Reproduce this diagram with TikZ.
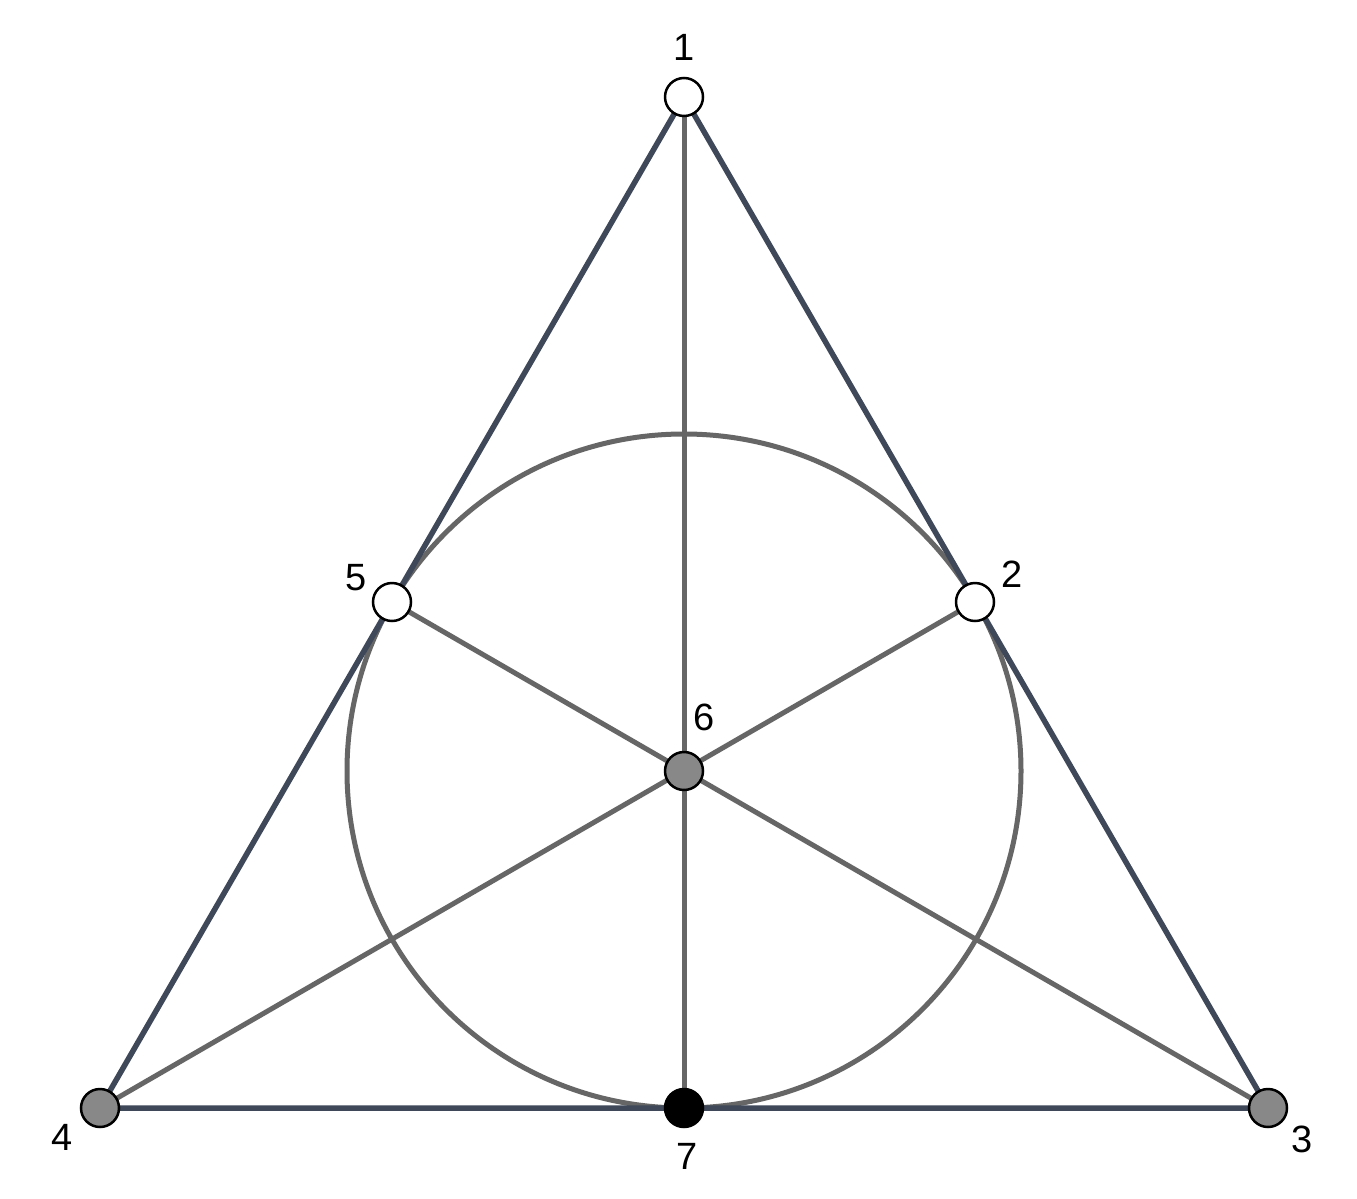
\documentclass[tikz,border=0pt]{standalone}
\usepackage{fontspec}
\setmainfont{Liberation Sans}
\definecolor{edgecol}{HTML}{3E4858}
\definecolor{inner}{HTML}{666666}
\definecolor{ptgray}{HTML}{888888}
\begin{document}
\begin{tikzpicture}[x=1pt,y=-1pt,
  pt/.style={circle,draw=black,line width=2.5pt,minimum size=38pt,inner sep=0pt},
  wpt/.style={pt,fill=white},
  gpt/.style={pt,fill=ptgray},
  bpt/.style={pt,fill=black},
  lab/.style={font=\fontsize{38}{42}\selectfont,inner sep=0pt},
  outer/.style={draw=edgecol,line width=5.5pt},
  innerl/.style={draw=inner,line width=5pt}]
\useasboundingbox (0,0) rectangle (1357,1199);
\fill[white] (0,0) rectangle (1357,1199);
\coordinate (c1) at (684,97);
\coordinate (c2) at (975,602);
\coordinate (c3) at (1268,1108);
\coordinate (c4) at (100,1108);
\coordinate (c5) at (392,602);
\coordinate (c6) at (684,771);
\coordinate (c7) at (684,1108);
\draw[innerl] (c6) circle[radius=337];
\draw[innerl] (c1) -- (c7);
\draw[innerl] (c5) -- (c3);
\draw[innerl] (c2) -- (c4);
\draw[outer,line join=round] (c1) -- (c3) -- (c4) -- cycle;
\node[wpt] (n1) at (c1) {};
\node[wpt] (n2) at (c2) {};
\node[gpt] (n3) at (c3) {};
\node[gpt] (n4) at (c4) {};
\node[wpt] (n5) at (c5) {};
\node[gpt] (n6) at (c6) {};
\node[bpt] (n7) at (c7) {};
\node[lab] (l1) at (684,47) {1};
\node[lab] (l2) at (1012,574) {2};
\node[lab] (l3) at (1302,1139) {3};
\node[lab] (l4) at (62,1137) {4};
\node[lab] (l5) at (356,578) {5};
\node[lab] (l6) at (704,717) {6};
\node[lab] (l7) at (687,1156) {7};
\end{tikzpicture}
\end{document}
